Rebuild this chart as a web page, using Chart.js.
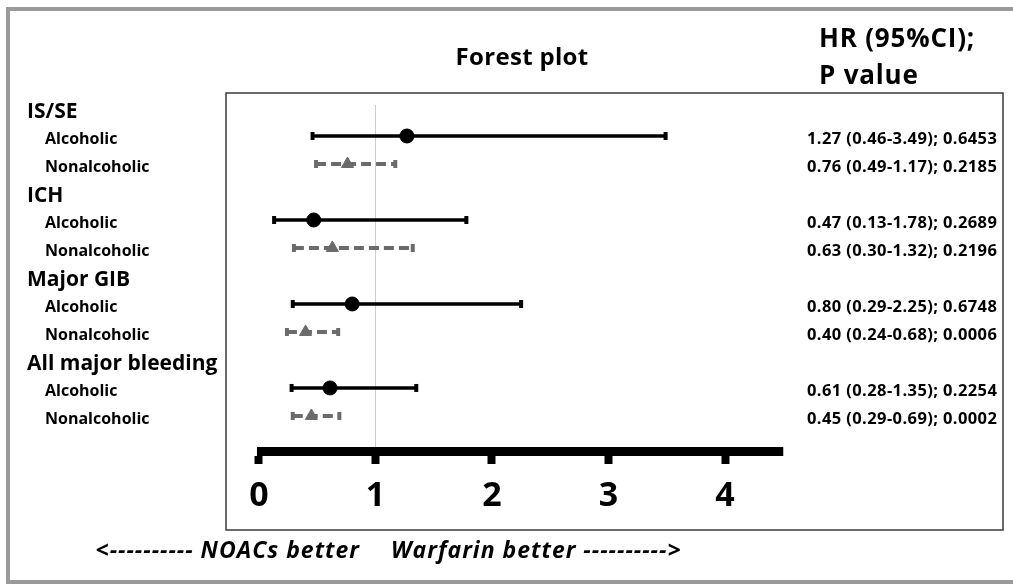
<!DOCTYPE html>
<html>
<head>
<meta charset="utf-8">
<script src="https://cdn.jsdelivr.net/npm/chart.js@4.4.1/dist/chart.umd.min.js"></script>
<style>
  html, body { margin: 0; padding: 0; background: #fff; }
  #wrap { width: 1013px; height: 585px; position: relative; }
</style>
</head>
<body>
<div id="wrap"><canvas id="forest"></canvas></div>
<script>
const groups = ["IS/SE", "ICH", "Major GIB", "All major bleeding"];
const subgroups = ["Alcoholic", "Nonalcoholic"];
const hr = [1.27, 0.76, 0.47, 0.63, 0.80, 0.40, 0.61, 0.45];
const ciLow = [0.46, 0.49, 0.13, 0.30, 0.29, 0.24, 0.28, 0.29];
const ciHigh = [3.49, 1.17, 1.78, 1.32, 2.25, 0.68, 1.35, 0.69];
const pValues = ["0.6453", "0.2185", "0.2689", "0.2196", "0.6748", "0.0006", "0.2254", "0.0002"];
const xTicks = [0, 1, 2, 3, 4];
const axisEnd = 4.5;

const FONT = "'Open Sans', Lato, sans-serif";
const solidColor = "#000000";
const dashColor = "#6b6b6b";

// row index -> y value (group header takes one slot, then two subgroup rows)
function rowY(i) {
    const g = Math.floor(i / 2);
    return g * 3 + 1 + (i % 2);
}

const datasets = [];

// HR markers, drawn on top
datasets.push({
    type: "scatter",
    order: 0,
    data: hr.map((v, i) => ({ x: v, y: rowY(i) })).filter((p, i) => i % 2 === 0),
    pointStyle: "circle",
    pointRadius: 7,
    backgroundColor: solidColor,
    borderColor: solidColor
});
datasets.push({
    type: "scatter",
    order: 0,
    data: hr.map((v, i) => ({ x: v, y: rowY(i) })).filter((p, i) => i % 2 === 1),
    pointStyle: "triangle",
    pointRadius: 7,
    backgroundColor: dashColor,
    borderColor: dashColor
});

// confidence interval lines
for (let i = 0; i < hr.length; i++) {
    const alc = i % 2 === 0;
    const col = alc ? solidColor : dashColor;
    datasets.push({
        type: "line",
        order: 1,
        data: [{ x: ciLow[i], y: rowY(i) }, { x: ciHigh[i], y: rowY(i) }],
        borderColor: col,
        borderWidth: alc ? 3.5 : 4,
        borderDash: alc ? [] : [10, 5],
        pointStyle: "line",
        pointRotation: 90,
        pointRadius: 4,
        pointBorderWidth: 4,
        pointBorderColor: col,
        pointBackgroundColor: col,
        fill: false
    });
}

const decor = {
    id: "decor",
    beforeDraw(chart) {
        const ctx = chart.ctx;
        ctx.save();
        ctx.fillStyle = "#fff";
        ctx.fillRect(0, 0, chart.width, chart.height);
        // outer frame
        ctx.strokeStyle = "#9a9a9a";
        ctx.lineWidth = 4;
        ctx.strokeRect(8, 9, chart.width + 10, 573);
        // plot box
        ctx.strokeStyle = "#3a3a3a";
        ctx.lineWidth = 1.5;
        ctx.strokeRect(226, 93, 777, 437);
        ctx.restore();
    },
    afterDatasetsDraw(chart) {
        const ctx = chart.ctx;
        const xs = chart.scales.x;
        const ys = chart.scales.y;
        const area = chart.chartArea;
        ctx.save();

        // thick horizontal axis
        ctx.strokeStyle = "#000";
        ctx.lineWidth = 9;
        ctx.beginPath();
        ctx.moveTo(xs.getPixelForValue(xTicks[0]) - 2, area.bottom - 4.5);
        ctx.lineTo(xs.getPixelForValue(axisEnd), area.bottom - 4.5);
        ctx.stroke();

        ctx.fillStyle = "#000";
        ctx.textBaseline = "middle";

        // title and right header
        ctx.textAlign = "center";
        ctx.font = "bold 24px " + FONT;
        ctx.letterSpacing = "0.3px";
        ctx.fillText("Forest plot", 522, 58);
        ctx.textAlign = "left";
        ctx.font = "bold 26px " + FONT;
        ctx.letterSpacing = "0.8px";
        ctx.fillText("HR (95%CI);", 819, 40);
        ctx.fillText("P value", 819, 77);

        // left labels
        groups.forEach((g, gi) => {
            ctx.letterSpacing = "0px";
            ctx.font = "bold 21px " + FONT;
            ctx.fillText(g, 27, ys.getPixelForValue(gi * 3) + 4);
            subgroups.forEach((s, si) => {
                const i = gi * 2 + si;
                const y = ys.getPixelForValue(rowY(i)) + 3;
                ctx.letterSpacing = "0px";
                ctx.font = "bold 16px " + FONT;
                ctx.fillText(s, 45, y);
                ctx.font = "bold 16.5px " + FONT;
                ctx.letterSpacing = "0.4px";
                const txt = hr[i].toFixed(2) + " (" + ciLow[i].toFixed(2) + "-" + ciHigh[i].toFixed(2) + "); " + pValues[i];
                ctx.fillText(txt, 807, y);
            });
        });

        // direction caption
        ctx.font = "italic bold 23px " + FONT;
        ctx.letterSpacing = "1px";
        ctx.textAlign = "right";
        ctx.fillText("<---------- NOACs better", 360, 551);
        ctx.textAlign = "left";
        ctx.fillText("Warfarin better ---------->", 391, 551);
        ctx.restore();
    }
};

new Chart(document.getElementById("forest"), {
    data: { datasets },
    options: {
        responsive: true,
        maintainAspectRatio: false,
        animation: false,
        events: [],
        layout: { padding: { left: 226, right: 10, top: 105, bottom: 52 } },
        plugins: { legend: { display: false }, tooltip: { enabled: false } },
        scales: {
            x: {
                type: "linear",
                min: -0.283,
                max: 6.386,
                afterBuildTicks: s => { s.ticks = xTicks.map(v => ({ value: v })); },
                afterFit: s => { s.height = 77; },
                border: { display: false },
                grid: {
                    color: c => (c.tick && c.tick.value === 1 ? "#cccccc" : "rgba(0,0,0,0)"),
                    lineWidth: 1,
                    tickColor: "#000",
                    tickLength: 8,
                    tickWidth: 8
                },
                ticks: {
                    color: "#000",
                    padding: 12,
                    maxRotation: 0,
                    font: { family: FONT, size: 34, weight: "bold" }
                }
            },
            y: {
                type: "linear",
                display: false,
                reverse: true,
                min: -0.107,
                max: 12.43
            }
        }
    },
    plugins: [decor]
});
</script>
</body>
</html>
